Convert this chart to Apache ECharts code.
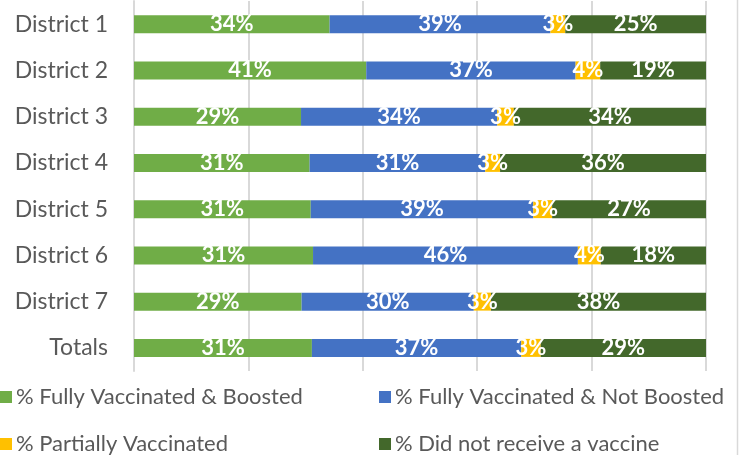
<!DOCTYPE html>
<html>
<head>
<meta charset="utf-8">
<script src="https://cdn.jsdelivr.net/npm/echarts@6/dist/echarts.min.js"></script>
<style>
html,body{margin:0;padding:0;background:#fff;}
#c{width:744px;height:455px;}
</style>
</head>
<body>
<div id="c"></div>
<script>
const categories = ['District 1','District 2','District 3','District 4','District 5','District 6','District 7','Totals'];
const seriesNames = ['% Fully Vaccinated & Boosted','% Fully Vaccinated & Not Boosted','% Partially Vaccinated','% Did not receive a vaccine'];
const fullyBoosted    = [34.2, 40.6, 29.2, 30.7, 30.9, 31.3, 29.3, 31.1];
const fullyNotBoosted = [38.6, 36.6, 34.3, 30.7, 38.9, 46.3, 30.1, 36.6];
const partially       = [2.6, 4.3, 2.9, 2.6, 3.3, 4.0, 3.0, 3.4];
const notVaccinated   = [24.6, 18.5, 33.6, 36.0, 26.9, 18.4, 37.6, 28.9];
const valueTicks = [0, 20, 40, 60, 80, 100];

const colors = ['#70AD47','#4472C4','#FFC000','#43682B'];
const FONT = 'Lato';
const values = [fullyBoosted, fullyNotBoosted, partially, notVaccinated];

const chart = echarts.init(document.getElementById('c'));
const legendPos = [
  {left: 0, top: 386},
  {left: 379, top: 386},
  {left: 0, top: 433},
  {left: 379, top: 433}
];
chart.setOption({
  animation: false,
  grid: {left: 134, right: 38, top: 1, bottom: 84, containLabel: false},
  xAxis: {
    type: 'value', min: valueTicks[0], max: valueTicks[valueTicks.length-1], interval: 20,
    axisLabel: {show: false}, axisTick: {show: false}, axisLine: {show: false},
    splitLine: {show: true, lineStyle: {color: '#D9D9D9', width: 2}}
  },
  yAxis: {
    type: 'category', data: categories, inverse: true,
    axisLine: {show: true, lineStyle: {color: '#D9D9D9', width: 2}},
    axisTick: {show: false},
    axisLabel: {color: '#595959', fontFamily: FONT, fontSize: 23, margin: 26}
  },
  legend: legendPos.map((p, i) => ({
    data: [seriesNames[i]], left: p.left, top: p.top, padding: 0,
    itemWidth: 12, itemHeight: 12, itemGap: 6,
    icon: 'rect',
    textStyle: {color: '#595959', fontFamily: FONT, fontSize: 22, padding: [0,0,0,-1]}
  })),
  graphic: [{
    type: 'line', shape: {x1: 737.5, y1: 0, x2: 737.5, y2: 455},
    style: {stroke: '#D9D9D9', lineWidth: 1.5}
  }],
  series: seriesNames.map((n, i) => ({
    name: n, type: 'bar', stack: 'total', data: values[i],
    barWidth: 18,
    itemStyle: {color: colors[i]},
    label: {
      show: true, position: 'inside', color: '#FFFFFF',
      fontFamily: FONT, fontWeight: 'bold', fontSize: 22,
      textBorderWidth: 0,
      formatter: p => Math.round(p.value) + '%'
    }
  }))
});
</script>
</body>
</html>
